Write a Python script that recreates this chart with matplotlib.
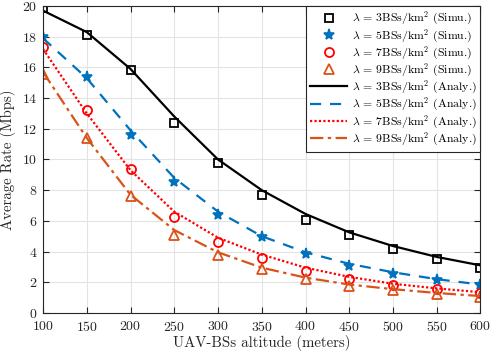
import numpy as np
import matplotlib
matplotlib.use("Agg")
import matplotlib.pyplot as plt

# altitude of UAV-BSs (meters)
altitude = [100, 150, 200, 250, 300, 350, 400, 450, 500, 550, 600]

# simulation results (Mbps)
simu_3 = [19.9, 18.1, 15.8, 12.4, 9.75, 7.7, 6.05, 5.05, 4.15, 3.5, 2.9]
simu_5 = [18.0, 15.4, 11.6, 8.5, 6.4, 4.97, 3.85, 3.06, 2.55, 2.15, 1.82]
simu_7 = [17.3, 13.2, 9.35, 6.25, 4.65, 3.58, 2.76, 2.21, 1.82, 1.56, 1.3]
simu_9 = [15.6, 11.4, 7.6, 5.1, 3.75, 2.85, 2.2, 1.78, 1.5, 1.26, 1.05]

# analytical results (Mbps)
analy_3 = [19.7, 18.3, 15.9, 12.8, 10.0, 8.0, 6.45, 5.25, 4.36, 3.65, 3.1]
analy_5 = [17.9, 15.3, 11.9, 8.8, 6.6, 5.0, 3.95, 3.2, 2.65, 2.2, 1.85]
analy_7 = [17.2, 13.0, 9.3, 6.6, 4.9, 3.8, 2.95, 2.35, 1.9, 1.6, 1.35]
analy_9 = [15.7, 11.4, 7.7, 5.4, 3.95, 2.95, 2.3, 1.85, 1.55, 1.3, 1.1]

densities = ["3", "5", "7", "9"]

plt.rcParams['font.family'] = 'serif'
plt.rcParams['font.serif'] = ['cmr10']
plt.rcParams['mathtext.fontset'] = 'cm'
plt.rcParams['axes.formatter.use_mathtext'] = True

c_black = 'black'
c_blue = (0.0, 0.447, 0.741)
c_red = 'red'
c_orange = (0.85, 0.325, 0.098)
colors = [c_black, c_blue, c_red, c_orange]

fig = plt.figure(figsize=(4.91, 3.54), dpi=100)
ax = fig.add_axes([0.0876, 0.116, 0.891, 0.867])

simu = [simu_3, simu_5, simu_7, simu_9]
analy = [analy_3, analy_5, analy_7, analy_9]
markers = ['s', '*', 'o', '^']
msizes = [5.5, 8, 6.5, 6.5]
styles = ['-', (0, (5, 4)), (0, (1, 1)), (0, (6, 2, 1.5, 2))]

for d, s, m, ms, c in zip(densities, simu, markers, msizes, colors):
    lab = r'$\lambda$ = ' + d + r'BSs/km$^2$ (Simu.)'
    if m == '*':
        ax.plot(altitude, s, m, color=c, ms=ms, mew=1.2, label=lab)
    else:
        ax.plot(altitude, s, m, color=c, mfc='none', ms=ms, mew=1.3, label=lab)

for d, a, ls, c in zip(densities, analy, styles, colors):
    lab = r'$\lambda$ = ' + d + r'BSs/km$^2$ (Analy.)'
    ax.plot(altitude, a, linestyle=ls, color=c, lw=1.6, label=lab)

ax.set_xlim(100, 600)
ax.set_ylim(0, 20)
ax.set_xticks(np.arange(100, 601, 50))
ax.set_yticks(np.arange(0, 21, 2))
ax.grid(True, color='#e3e3e3', lw=0.8)
ax.set_axisbelow(True)
ax.tick_params(direction='in', top=True, right=True, labelsize=10,
               colors='#262626', length=4)
ax.tick_params(axis='x', pad=5)
ax.tick_params(axis='y', pad=4)
for sp in ax.spines.values():
    sp.set_color('#262626')
    sp.set_linewidth(0.8)

ax.set_xlabel('UAV-BSs altitude (meters)', fontsize=10.7, color='#262626', labelpad=1)
ax.set_ylabel('Average Rate (Mbps)', fontsize=10.7, color='#262626', labelpad=4)

leg = ax.legend(loc='upper right', fontsize=8.5, fancybox=False, framealpha=1,
                edgecolor='#262626', borderpad=0.35, labelspacing=0.0,
                handlelength=3.1, handletextpad=0.4, borderaxespad=0.0)
leg.get_frame().set_linewidth(0.8)

fig.savefig('out.png', dpi=100)
